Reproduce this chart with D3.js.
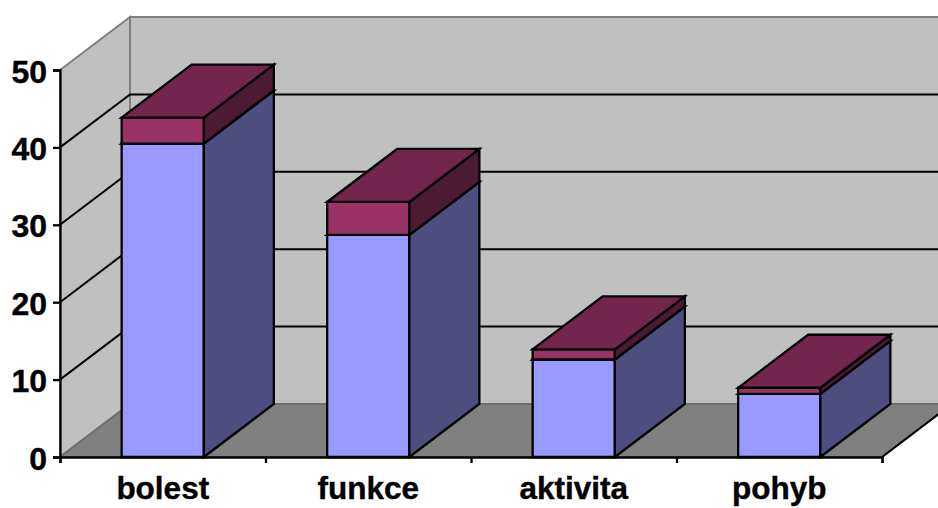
<!DOCTYPE html>
<html lang="cs">
<head>
    <meta charset="UTF-8">
    <title>bolest, funkce, aktivita, pohyb</title>
    <script src="https://d3js.org/d3.v7.min.js"></script>
    <style>
        html, body { margin: 0; padding: 0; background: #fff; overflow: hidden; }
        svg { display: block; }
        text { font-family: "Liberation Sans", Arial, sans-serif; font-weight: bold; fill: #000; stroke: #000; stroke-width: 0.4px; }
    </style>
</head>
<body>
    <div id="chart"></div>

    <script>
        const categories = ["bolest", "funkce", "aktivita", "pohyb"];
        const lowerValues = [40.5, 28.7, 12.6, 8.15];
        const upperValues = [3.35, 4.25, 1.3, 0.8];
        const yTicks = [0, 10, 20, 30, 40, 50];

        const width = 938, height = 508;
        const plotLeft = 60, plotRight = 882, plotBottom = 457, plotTop = 70;
        const depthX = 70, depthY = -53;

        const y = d3.scaleLinear().domain([0, 50]).range([plotBottom, plotTop]);
        const x = d3.scaleBand().domain(categories).range([plotLeft, plotRight])
            .paddingInner(0.6).paddingOuter(0.3);
        const xEdges = d3.scaleLinear().domain([0, categories.length]).range([plotLeft, plotRight]);

        const svg = d3.select("#chart").append("svg")
            .attr("width", width)
            .attr("height", height);

        const poly = (pts, fill, stroke, sw) => svg.append("polygon")
            .attr("points", pts.map(p => p.join(",")).join(" "))
            .attr("fill", fill)
            .attr("stroke", stroke)
            .attr("stroke-width", sw);

        // walls and floor
        poly([[plotLeft + depthX, plotTop + depthY], [plotRight + depthX, plotTop + depthY],
              [plotRight + depthX, plotBottom + depthY], [plotLeft + depthX, plotBottom + depthY]], "#c0c0c0", "#808080", 2);
        poly([[plotLeft, plotTop], [plotLeft + depthX, plotTop + depthY],
              [plotLeft + depthX, plotBottom + depthY], [plotLeft, plotBottom]], "#c0c0c0", "#808080", 2);
        poly([[plotLeft, plotBottom], [plotLeft + depthX, plotBottom + depthY],
              [plotRight + depthX, plotBottom + depthY], [plotRight, plotBottom]], "#808080", "#6e6e6e", 2);

        // gridlines run along the side wall, then along the back wall
        svg.selectAll(".grid")
            .data(yTicks.filter(d => d > 0 && d < 50))
            .enter().append("polyline")
            .attr("class", "grid")
            .attr("fill", "none")
            .attr("stroke", "#000")
            .attr("stroke-width", 2)
            .attr("points", d => `${plotLeft},${y(d)} ${plotLeft + depthX},${y(d) + depthY} ${plotRight + depthX},${y(d) + depthY}`);

        // right edge of the floor
        svg.append("line")
            .attr("x1", plotRight).attr("y1", plotBottom)
            .attr("x2", plotRight + depthX).attr("y2", plotBottom + depthY)
            .attr("stroke", "#000").attr("stroke-width", 2);

        // bars: one box per stacked segment
        const box = (name, from, to, front, side, topFill) => {
            const x0 = x(name), x1 = x0 + x.bandwidth();
            const y0 = y(from), y1 = y(to);
            poly([[x0, y0], [x1, y0], [x1, y1], [x0, y1]], front, "#000", 2.3);
            poly([[x1, y0], [x1 + depthX, y0 + depthY], [x1 + depthX, y1 + depthY], [x1, y1]], side, "#000", 2.3);
            poly([[x0, y1], [x1, y1], [x1 + depthX, y1 + depthY], [x0 + depthX, y1 + depthY]], topFill, "#000", 2.3);
        };

        categories.forEach((name, i) => {
            box(name, 0, lowerValues[i], "#9999ff", "#4d4d80", "#4d4d80");
            box(name, lowerValues[i], lowerValues[i] + upperValues[i], "#993366", "#4d1a33", "#73264d");
        });

        // axes
        const yAxis = svg.append("g")
            .attr("transform", `translate(${plotLeft},0)`)
            .call(d3.axisLeft(y).tickValues(yTicks).tickSize(7).tickPadding(6));
        yAxis.selectAll("path, line").attr("stroke", "#000").attr("stroke-width", 2.3);
        yAxis.selectAll("text").attr("font-size", 32).attr("dy", "0.38em");
        yAxis.attr("font-family", null);

        const xTicks = svg.append("g")
            .attr("transform", `translate(0,${plotBottom})`)
            .call(d3.axisBottom(xEdges).ticks(categories.length).tickSizeInner(6).tickSizeOuter(6).tickFormat(""));
        xTicks.selectAll("path, line").attr("stroke", "#000").attr("stroke-width", 2.3);

        const xLabels = svg.append("g")
            .attr("transform", `translate(0,${plotBottom})`)
            .call(d3.axisBottom(x).tickSize(0).tickPadding(20));
        xLabels.select("path").remove();
        xLabels.selectAll("text").attr("font-size", 31.5);
        xLabels.attr("font-family", null);
    </script>
</body>
</html>
